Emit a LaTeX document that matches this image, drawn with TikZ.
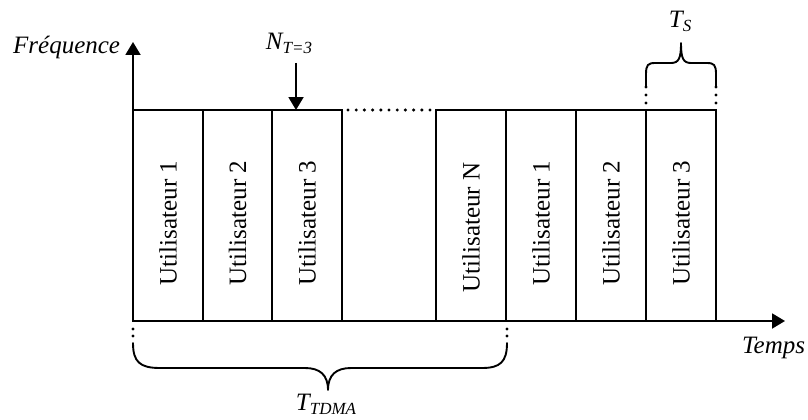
\documentclass[tikz,border=0pt]{standalone}
\usepackage{fontspec}
\setmainfont{Liberation Serif}
\usetikzlibrary{arrows.meta}
\newcommand{\subtxt}[1]{\raisebox{-4pt}{\fontsize{17}{17}\selectfont #1}}
\begin{document}
\begin{tikzpicture}[x=1pt,y=-1pt,line width=1.9pt,
  slot/.style={draw, rotate=90, minimum width=211pt, minimum height=70pt,
    inner sep=0pt, font=\fontsize{25}{25}\selectfont},
  lbl/.style={font=\fontsize{25}{25}\selectfont\itshape, inner sep=0pt},
  tip/.style={-{Triangle[length=13pt,width=15pt]}},
  dotline/.style={line width=3.4pt, line cap=round, dash pattern=on 0pt off 8.2pt},
  brace/.style={line width=1.9pt, line join=round, line cap=round}]
\useasboundingbox (0,0) rectangle (808,420);

% axes
\coordinate (O) at (133,321);
\coordinate (ytop) at (133,42);
\coordinate (xend) at (785,321);
\draw[tip] (O) -- (ytop);
\draw[tip] (O) -- (xend);

% time slots (first frame, then the next one)
\node[slot] (s1) at (168,215.5)   {Utilisateur 1\hspace*{15pt}};
\node[slot] (s2) at (237.5,215.5) {Utilisateur 2\hspace*{15pt}};
\node[slot] (s3) at (307,215.5)   {Utilisateur 3\hspace*{15pt}};
\node[slot] (sN) at (471,215.5)   {Utilisateur N\hspace*{24pt}};
\node[slot] (s5) at (541,215.5)   {Utilisateur 1\hspace*{15pt}};
\node[slot] (s6) at (611,215.5)   {Utilisateur 2\hspace*{15pt}};
\node[slot] (s7) at (681,215.5)   {Utilisateur 3\hspace*{15pt}};

% omitted slots
\coordinate (gapL) at (348,110);
\coordinate (gapR) at (431,110);
\draw[dotline] (gapL) -- (gapR);

% slot number marker
\node[lbl, anchor=base west] (nt) at (265,49) {N\subtxt{T=3}};
\coordinate (ntA) at (296,63);
\coordinate (ntB) at (296,110);
\draw[tip] (ntA) -- (ntB);

% axis labels
\node[lbl, anchor=base east] (fy) at (121,54) {Fréquence};
\node[lbl, anchor=base east] (tx) at (806,353) {Temps};

% slot duration brace
\foreach \x in {646,716} {
  \foreach \y in {87,95,103} \fill (\x,\y) circle (1.7pt);
}
\draw[brace] (646,86) -- (646,74) .. controls (646,65) and (648,63) .. (655,63)
  -- (671,63) .. controls (679,63) and (681,58) .. (681,43)
  .. controls (681,58) and (683,63) .. (691,63) -- (707,63)
  .. controls (714,63) and (716,65) .. (716,74) -- (716,86);
\node[lbl, anchor=base west] (ts) at (668,28) {T\subtxt{S}};

% frame duration brace
\foreach \x in {133,507} {
  \foreach \y in {329,336} \fill (\x,\y) circle (1.7pt);
}
\draw[brace] (133,343) .. controls (133,362) and (140,368) .. (160,368)
  -- (305,368) .. controls (320,368) and (328,375) .. (328,390)
  .. controls (328,375) and (336,368) .. (351,368) -- (482,368)
  .. controls (500,368) and (507,362) .. (507,343);
\node[lbl, anchor=base west] (tt) at (295,410) {T\subtxt{TDMA}};
\end{tikzpicture}
\end{document}
